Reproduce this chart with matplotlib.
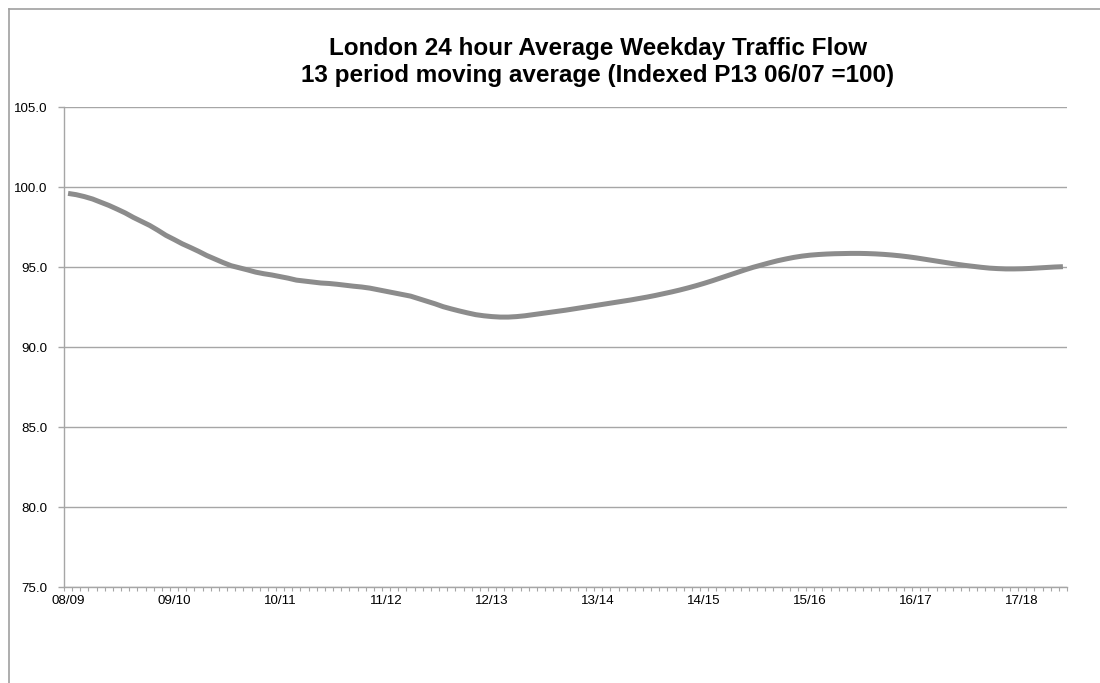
import numpy as np
import matplotlib
matplotlib.use("Agg")
import matplotlib.pyplot as plt
from matplotlib.lines import Line2D

plt.rcParams['font.family'] = ['Liberation Sans', 'DejaVu Sans']

# financial year labels, 13 periods per year
years = ['08/09', '09/10', '10/11', '11/12', '12/13',
         '13/14', '14/15', '15/16', '16/17', '17/18']
periods_per_year = 13

# 13 period moving average, indexed (P13 06/07 = 100)
flow = [
    99.60, 99.52, 99.40, 99.25, 99.05, 98.85, 98.62, 98.38, 98.10, 97.85,
    97.60, 97.30, 96.98, 96.72, 96.45, 96.22, 95.98, 95.72, 95.50, 95.28,
    95.08, 94.95, 94.82, 94.68, 94.58, 94.50, 94.40, 94.30, 94.18, 94.12,
    94.06, 94.00, 93.97, 93.92, 93.86, 93.80, 93.75, 93.68, 93.58, 93.48,
    93.38, 93.28, 93.18, 93.02, 92.86, 92.70, 92.52, 92.38, 92.25, 92.13,
    92.02, 91.95, 91.90, 91.87, 91.87, 91.90, 91.95, 92.02, 92.09, 92.16,
    92.23, 92.30, 92.38, 92.46, 92.54, 92.62, 92.70, 92.78, 92.86, 92.94,
    93.03, 93.12, 93.22, 93.33, 93.44, 93.56, 93.69, 93.83, 93.98, 94.14,
    94.31, 94.48, 94.65, 94.82, 94.98, 95.12, 95.26, 95.39, 95.50, 95.60,
    95.68, 95.74, 95.78, 95.81, 95.83, 95.84, 95.85, 95.85, 95.84, 95.82,
    95.79, 95.75, 95.70, 95.64, 95.57, 95.49, 95.41, 95.33, 95.25, 95.17,
    95.10, 95.04, 94.98, 94.93, 94.90, 94.88, 94.88, 94.89, 94.91, 94.94,
    94.97, 95.00, 95.02,
]

W, H = 1100, 683
fig = plt.figure(figsize=(W / 100, H / 100), dpi=100)

# plot area in pixels
left, right, top, bottom = 64, 1067, 107, 587
ax = fig.add_axes([left / W, 1 - bottom / H, (right - left) / W, (bottom - top) / H])

x = np.arange(len(flow))
ax.plot(x, flow, color='#8c8c8c', lw=3.6, solid_capstyle='butt', zorder=3)

ax.set_xlim(-0.5, len(flow) - 0.5)
ax.set_ylim(75, 105)

grid_col = '#a6a6a6'
ax.set_yticks(np.arange(75, 105.1, 5))
ax.set_yticklabels(['%.1f' % v for v in np.arange(75, 105.1, 5)], fontsize=9.6)
ax.yaxis.grid(True, color=grid_col, lw=1)
ax.tick_params(axis='y', length=4, width=1, color=grid_col, pad=8, direction='out')

ax.set_xticks(np.arange(len(years)) * periods_per_year)
ax.set_xticklabels(years, fontsize=9.6)
ax.set_xticks(np.arange(-0.5, len(flow), 1), minor=True)
ax.tick_params(axis='x', which='major', length=0, pad=6)
ax.tick_params(axis='x', which='minor', length=3, width=0.8, color=grid_col, direction='out')

for s in ['top', 'right']:
    ax.spines[s].set_visible(False)
for s in ['left', 'bottom']:
    ax.spines[s].set_color(grid_col)
    ax.spines[s].set_linewidth(1)

# outer chart frame (partly cropped)
fig.add_artist(Line2D([9 / W, 1], [1 - 9 / H, 1 - 9 / H], color='#a0a0a0', lw=1.2))
fig.add_artist(Line2D([9 / W, 9 / W], [0, 1 - 9 / H], color='#a0a0a0', lw=1.2))

fig.text(598 / W, 1 - 62 / H,
         'London 24 hour Average Weekday Traffic Flow\n13 period moving average (Indexed P13 06/07 =100)',
         ha='center', va='center', fontsize=17.5, fontweight='bold', linespacing=1.2)

fig.savefig('out.png', dpi=100)
